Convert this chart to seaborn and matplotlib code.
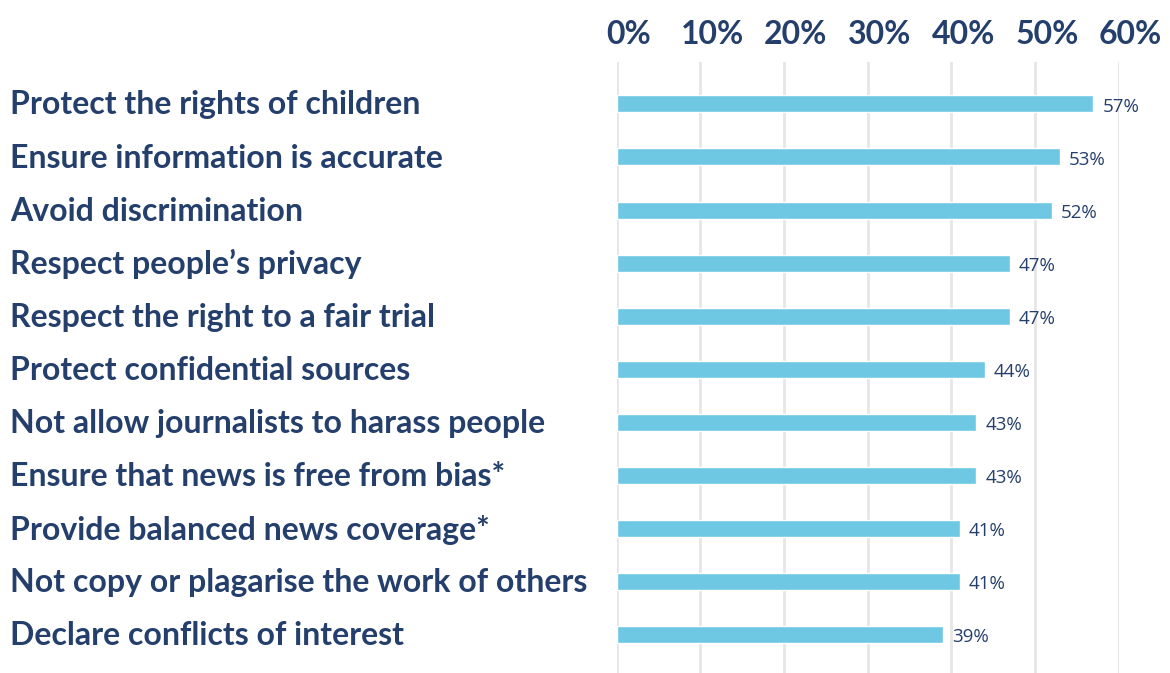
import matplotlib
matplotlib.use('Agg')
import matplotlib.pyplot as plt
import matplotlib.transforms as mtransforms
import seaborn as sns
import pandas as pd
from matplotlib.ticker import PercentFormatter

# data
categories = [
    'Protect the rights of children',
    'Ensure information is accurate',
    'Avoid discrimination',
    'Respect people\u2019s privacy',
    'Respect the right to a fair trial',
    'Protect confidential sources',
    'Not allow journalists to harass people',
    'Ensure that news is free from bias*',
    'Provide balanced news coverage*',
    'Not copy or plagarise the work of others',
    'Declare conflicts of interest',
]
values = [57, 53, 52, 47, 47, 44, 43, 43, 41, 41, 39]
x_ticks = [0, 10, 20, 30, 40, 50, 60]

df = pd.DataFrame({'category': categories, 'value': values})

navy = '#243F6B'
bar_color = '#6EC8E4'

sns.set_style('white')
plt.rcParams['font.family'] = ['Lato', 'DejaVu Sans']

fig = plt.figure(figsize=(11.7, 6.73), dpi=100)
ax = fig.add_axes([0.527, 0.0, 0.429, 0.908])

sns.barplot(data=df, x='value', y='category', color=bar_color, width=0.32,
            saturation=1, ax=ax, zorder=3)

ax.set_xlim(0, 60)
ax.set_ylim(10.72, -0.79)
ax.set_xticks(x_ticks)
ax.xaxis.set_major_formatter(PercentFormatter(decimals=0))
ax.xaxis.tick_top()
ax.tick_params(axis='x', length=0, pad=9, labelsize=23, labelcolor=navy)
shift = mtransforms.ScaledTranslation(12 / 100, 0, fig.dpi_scale_trans)
for t in ax.get_xticklabels():
    t.set_fontweight('bold')
    t.set_transform(t.get_transform() + shift)
ax.grid(axis='x', color='#E6E6E6', linewidth=2, zorder=0)
ax.set_axisbelow(True)
for s in ax.spines.values():
    s.set_visible(False)

ax.set_xlabel('')
ax.set_ylabel('')
ax.tick_params(axis='y', length=0, pad=0)
ax.set_yticklabels([])

# category labels, left aligned at the figure edge
label_trans = mtransforms.blended_transform_factory(fig.transFigure, ax.transData)
for i, c in enumerate(categories):
    ax.text(10 / 1170, i + 0.02, c, transform=label_trans, ha='left', va='center',
            fontsize=23, fontweight='bold', color=navy)

for i, v in enumerate(values):
    ax.text(v + 1.1, i + 0.05, f'{v}%', ha='left', va='center',
            fontsize=13.5, color=navy, family=['Open Sans', 'DejaVu Sans'])

fig.savefig('out.png', dpi=100)
